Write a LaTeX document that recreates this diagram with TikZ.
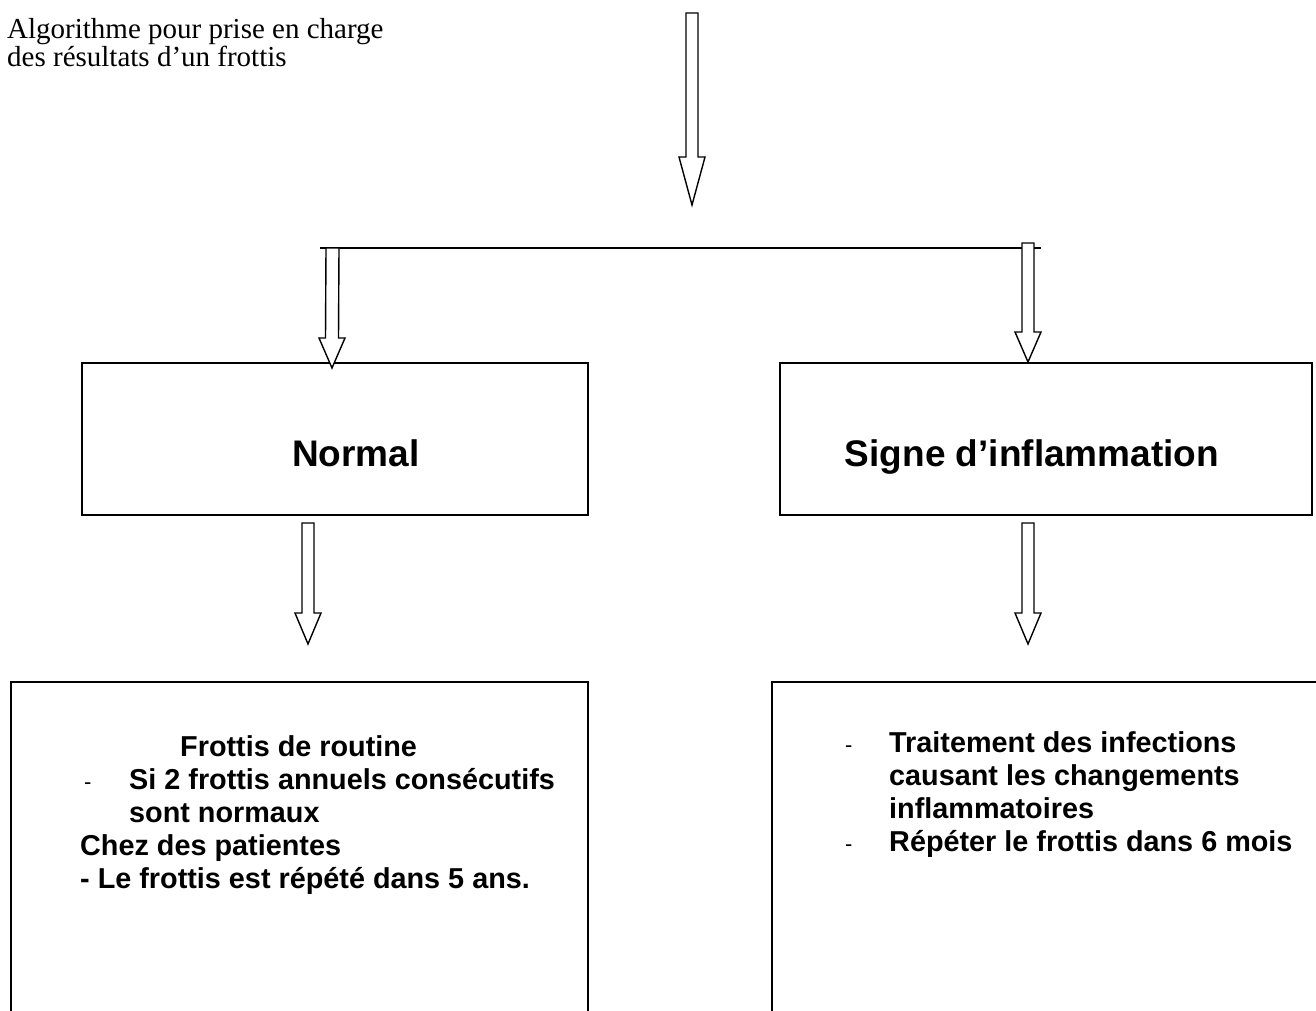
\documentclass[tikz,border=0pt]{standalone}
\usepackage{fontspec}
\setmainfont{Liberation Serif}
\newfontfamily\arialf{Liberation Sans}
\usetikzlibrary{calc}
\newcommand\tightlines{\lineskiplimit=-50pt\relax\lineskip=0pt\relax}
\newcommand\hollowarrow[5]{% top, tip, shaft half width, head half width, head length
  \draw[blockarr] ($(#1)+(-#3,0)$) -- ($(#2)+(-#3,-#5)$) -- ($(#2)+(-#4,-#5)$) -- (#2)
    -- ($(#2)+(#4,-#5)$) -- ($(#2)+(#3,-#5)$) -- ($(#1)+(#3,0)$) -- cycle;}
\begin{document}
\begin{tikzpicture}[x=1pt,y=-1pt,
  blockarr/.style={draw=black,fill=white,line width=1.4pt,line join=miter},
  boxstyle/.style={draw=black,line width=1.4pt,rectangle,inner sep=0pt},
  bodytext/.style={anchor=base west,inner sep=0pt,align=left,font=\arialf\bfseries\fontsize{28.8}{33}\selectfont\tightlines},
  dashtext/.style={anchor=base west,inner sep=0pt,font=\arialf\fontsize{22}{26}\selectfont},
  headtext/.style={anchor=base,inner sep=0pt,font=\arialf\bfseries\fontsize{37}{44}\selectfont},
  titletext/.style={anchor=base west,inner sep=0pt,align=left,font=\fontsize{29}{28}\selectfont\tightlines}]
\useasboundingbox (0,0) rectangle (1316,1010);
\clip (0,0) rectangle (1316,1010);
\fill[white] (0,0) rectangle (1316,1010);

% title (anchor = baseline of last line)
\node[titletext] (title) at (7,66) {Algorithme pour prise en charge\\des résultats d’un frottis};

% coordinates for arrows
\coordinate (topS) at (692,13);
\coordinate (topT) at (692,205);
\coordinate (lineL) at (320,248);
\coordinate (lineR) at (1041,248);
\coordinate (aS) at (332.5,248);
\coordinate (aT) at (332,368);
\coordinate (bS) at (1028,243);
\coordinate (bT) at (1028,362);
\coordinate (cS) at (308,523);
\coordinate (cT) at (308,644);
\coordinate (dS) at (1028,523);
\coordinate (dT) at (1028,644);

% boxes
\node[boxstyle,minimum width=506pt,minimum height=152pt] (normal) at (335,439) {};
\node[boxstyle,minimum width=532pt,minimum height=152pt] (signe) at (1046,439) {};
\node[boxstyle,minimum width=577pt,minimum height=360pt] (routine) at (299.5,862) {};
\node[boxstyle,minimum width=568pt,minimum height=360pt] (traite) at (1056,862) {};

\node[headtext] (normalT) at (356,466) {Normal};
\node[headtext] (signeT) at (1032,466) {Signe d’inflammation};

% connectors
\draw[line width=1.4pt] (lineL) -- (lineR);
\hollowarrow{topS}{topT}{6}{13}{48}
\hollowarrow{aS}{aT}{6.5}{13}{30}
\hollowarrow{bS}{bT}{6}{13}{30}
\hollowarrow{cS}{cT}{6}{13}{31}
\hollowarrow{dS}{dT}{6}{13}{31}

% left bottom text (anchor = baseline of last line)
\node[bodytext] (ltext) at (80,888) {\hspace*{100pt}Frottis de routine\\
\hspace*{49pt}Si 2 frottis annuels consécutifs\\
\hspace*{49pt}sont normaux\\
Chez des patientes\\
- Le frottis est répété dans 5 ans.};
\node[dashtext] (ld1) at (84,789) {-};

% right bottom text
\node[bodytext] (rtext) at (889,851) {Traitement des infections\\
causant les changements\\
inflammatoires\\
Répéter le frottis dans 6 mois};
\node[dashtext] (rd1) at (845,752) {-};
\node[dashtext] (rd2) at (845,851) {-};
\end{tikzpicture}
\end{document}
